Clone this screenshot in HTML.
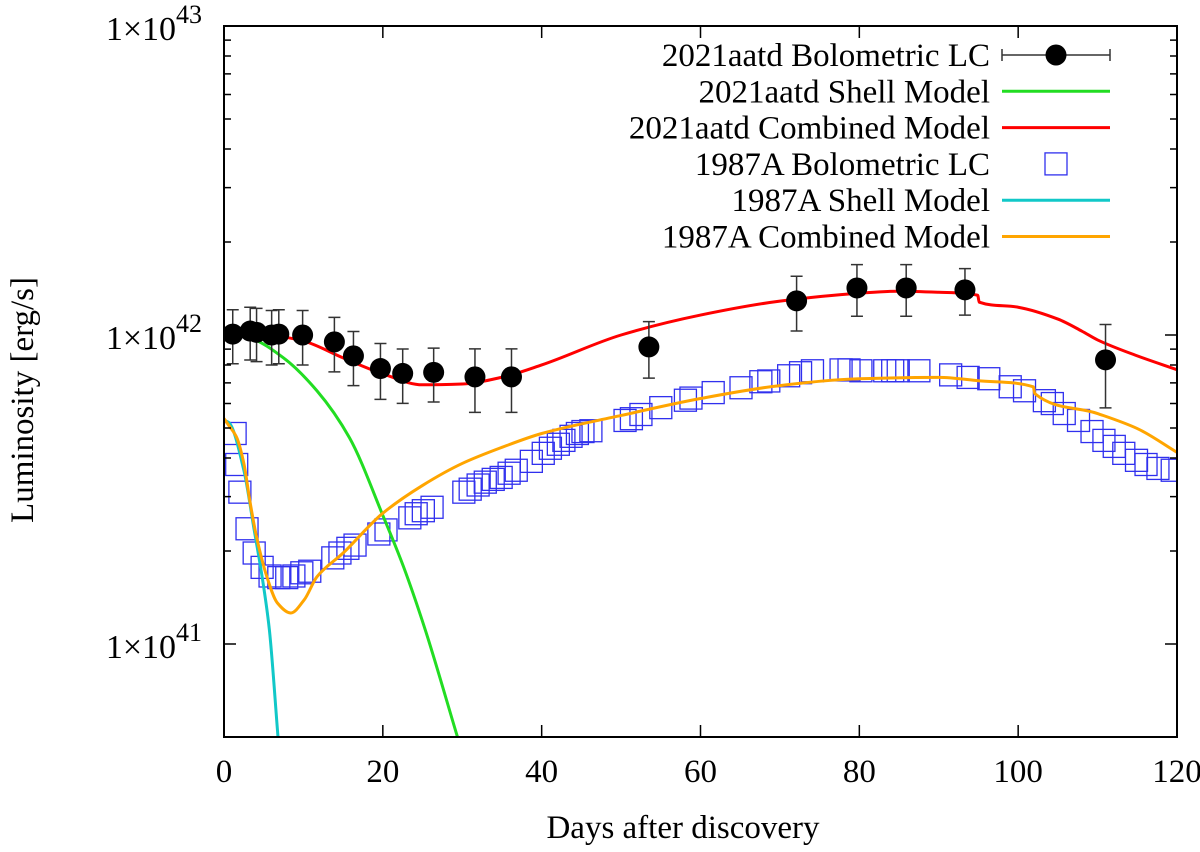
<!DOCTYPE html>
<html><head><meta charset="utf-8"><style>
body{margin:0;background:#fff;}
svg{display:block;font-family:"Liberation Serif",serif;}
</style></head><body>
<svg id="chart" width="1200" height="852" viewBox="0 0 1200 852" xmlns="http://www.w3.org/2000/svg">
<rect width="1200" height="852" fill="#fff"/>
<defs><clipPath id="clip"><rect x="224" y="26" width="953" height="711"/></clipPath></defs>
<g id="plot"></g>
<g id="axes"></g>
<g id="legend"></g>
</svg>
<script>
// ---- data (luminosity in units of 1e42 erg/s) ----
const aatdDays = [1.1,3.3,4.1,6.0,6.9,9.9,13.9,16.3,19.7,22.5,26.4,31.6,36.2,53.5,72.1,79.7,85.9,93.3,111.0];
const aatdLum  = [1.007,1.03,1.02,1.0,1.007,1.0,0.95,0.856,0.779,0.751,0.757,0.732,0.732,0.915,1.29,1.42,1.42,1.40,0.831];
const aatdErr  = [0.2,0.2,0.2,0.2,0.2,0.2,0.19,0.17,0.16,0.15,0.15,0.17,0.17,0.19,0.26,0.27,0.27,0.24,0.25];
const aatdShellDays = [0,0.4,3.3,7.5,11.7,15.8,20.1,22.6,25.3,29.4];
const aatdShellLum  = [1.03,1.015,0.978,0.843,0.66,0.465,0.257,0.178,0.112,0.05];
const aatdCombDays = [0,5,10,15,20,25,30,35,40,50,60,70,80,85,90,94.9,95.1,100,105,108,110,115,120];
const aatdCombLum  = [1.03,1.007,0.956,0.843,0.749,0.69,0.694,0.73,0.8,1.0,1.16,1.287,1.365,1.386,1.375,1.345,1.277,1.23,1.126,1.03,0.964,0.856,0.772];
const snDays = [1.4,1.6,2.0,2.9,3.8,4.8,5.8,6.9,7.9,8.8,9.8,10.8,13.7,14.6,15.6,16.5,19.5,20.4,23.4,24.2,25.1,26.2,30.2,31.0,32.0,32.9,33.9,34.9,35.9,36.8,38.7,40.2,41.1,42.1,42.8,43.7,44.5,45.2,46.2,50.5,51.3,52.5,55.0,58.1,58.8,61.6,65.1,67.6,68.6,71.1,72.6,74.1,77.7,78.7,80.2,83.2,84.2,84.9,87.5,91.5,93.7,96.3,99.0,100.8,103.3,104.3,105.8,107.6,109.3,110.8,112.1,113.3,114.9,116.1,117.6,119.4];
const snLum  = [0.48,0.381,0.31,0.236,0.197,0.177,0.166,0.164,0.164,0.166,0.17,0.172,0.19,0.197,0.204,0.209,0.227,0.234,0.256,0.264,0.27,0.277,0.31,0.317,0.327,0.334,0.341,0.346,0.357,0.365,0.39,0.414,0.43,0.443,0.456,0.47,0.48,0.487,0.49,0.529,0.536,0.553,0.582,0.615,0.625,0.651,0.675,0.706,0.71,0.738,0.755,0.766,0.771,0.771,0.766,0.766,0.766,0.766,0.766,0.743,0.729,0.722,0.68,0.66,0.613,0.6,0.557,0.529,0.487,0.456,0.436,0.414,0.393,0.381,0.37,0.365];
const snShellDays = [0,0.6,2.5,3.8,4.8,5.7,6.8];
const snShellLum  = [0.53,0.521,0.365,0.234,0.165,0.112,0.05];
const snCombDays = [0,0.6,1.6,2.5,3.3,4.1,5.4,6.7,8.4,10.1,11.7,15,20,25,30,35,40,50,60,70,80,90,95,101.9,102.1,110,115,120];
const snCombLum  = [0.537,0.51,0.466,0.384,0.286,0.222,0.165,0.136,0.126,0.139,0.165,0.197,0.265,0.326,0.384,0.433,0.48,0.549,0.623,0.686,0.722,0.729,0.711,0.68,0.646,0.557,0.498,0.417];
const xTicks = [0,20,40,60,80,100,120];
const yDecades = [41,42,43];

const X0=224,X1=1177,Y1=737,YT=26;
const xS=d=>X0+(d/120)*(X1-X0);
const yS=L=>335-Math.log10(L)*309; // L in 1e42
const NS="http://www.w3.org/2000/svg";
function mk(tag,attrs,parent){const e=document.createElementNS(NS,tag);for(const k in attrs)e.setAttribute(k,attrs[k]);parent.appendChild(e);return e;}
const plot=document.getElementById('plot'),axes=document.getElementById('axes'),leg=document.getElementById('legend');
const g=mk('g',{'clip-path':'url(#clip)'},plot);
function smoothPath(pts){
  const n=pts.length;
  const dx=[],m=[],t=[];
  for(let i=0;i<n-1;i++){dx.push(pts[i+1][0]-pts[i][0]);m.push((pts[i+1][1]-pts[i][1])/dx[i]);}
  t[0]=m[0];t[n-1]=m[n-2];
  for(let i=1;i<n-1;i++){t[i]=(m[i-1]*m[i]<=0)?0:3*(dx[i-1]+dx[i])/((2*dx[i]+dx[i-1])/m[i-1]+(dx[i]+2*dx[i-1])/m[i]);}
  let d='M'+pts[0][0]+','+pts[0][1];
  for(let i=0;i<n-1;i++){const h=dx[i]/3;
    d+=`C${pts[i][0]+h},${pts[i][1]+t[i]*h} ${pts[i+1][0]-h},${pts[i+1][1]-t[i+1]*h} ${pts[i+1][0]},${pts[i+1][1]}`;}
  return d;
}
function line(days,lum,color,name){
  const pts=days.map((d,i)=>[xS(d),yS(lum[i])]);
  const p=mk('path',{d:smoothPath(pts),fill:'none',stroke:color,'stroke-width':3,'stroke-linejoin':'round'},g);
  
  
}
snDays.forEach((d,i)=>{
  const x=xS(d),y=yS(snLum[i]);
  const r=mk('rect',{x:x-11,y:y-11,width:22,height:22,fill:'none',stroke:'#3030ee','stroke-width':1.3},g);
  
  
});
line(aatdShellDays,aatdShellLum,'#22dd22','aatd-shell-model-line');
line(snShellDays,snShellLum,'#11c8c8','sn1987a-shell-model-line');
line(snCombDays,snCombLum,'#ffa500','sn1987a-combined-model-line');
line(aatdCombDays,aatdCombLum,'#ff0000','aatd-combined-model-line');
aatdDays.forEach((d,i)=>{
  const x=xS(d),y=yS(aatdLum[i]),yh=yS(aatdLum[i]+aatdErr[i]),yl=yS(aatdLum[i]-aatdErr[i]);
  const eb=mk('path',{d:`M${x},${yh}V${yl}M${x-6},${yh}H${x+6}M${x-6},${yl}H${x+6}`,stroke:'#333','stroke-width':1.5,fill:'none'},g);
  
  
  const c=mk('circle',{cx:x,cy:y,r:10.5,fill:'#000'},g);
  
  
});
const fr=mk('rect',{x:X0,y:YT,width:X1-X0,height:Y1-YT,fill:'none',stroke:'#000','stroke-width':2},axes);


xTicks.forEach(t=>{
  const x=xS(t);
  mk('path',{d:`M${x},${Y1}v-12M${x},${YT}v12`,stroke:'#000','stroke-width':1.5},axes);
  const tx=mk('text',{x:x,y:Y1+45,'text-anchor':'middle','font-size':33},axes);tx.textContent=t;
  
  
});
yDecades.forEach(e=>{
  const base=Math.pow(10,e-42);
  const y=yS(base);
  mk('path',{d:`M${X0},${y}h12M${X1},${y}h-12`,stroke:'#000','stroke-width':1.5},axes);
  const tx=mk('text',{x:X0-22,y:y+14,'text-anchor':'end','font-size':34},axes);
  tx.innerHTML='1×10<tspan dy="-17" font-size="26">'+e+'</tspan>';
  
  
  for(let m=2;m<=9;m++){const v=base*m;const ym=yS(v);if(ym<YT||ym>Y1)continue;
    mk('path',{d:`M${X0},${ym}h7M${X1},${ym}h-7`,stroke:'#000','stroke-width':1.5},axes);}
});
const xt=mk('text',{x:683,y:838,'text-anchor':'middle','font-size':33},axes);xt.textContent='Days after discovery';


const yt=mk('text',{x:0,y:0,'text-anchor':'middle','font-size':33,transform:'translate(33,400) rotate(-90)'},axes);yt.textContent='Luminosity [erg/s]';


const entries=[['2021aatd Bolometric LC','err'],['2021aatd Shell Model','#22dd22'],['2021aatd Combined Model','#ff0000'],['1987A Bolometric LC','sq'],['1987A Shell Model','#11c8c8'],['1987A Combined Model','#ffa500']];
entries.forEach((en,i)=>{
  const y=55+36.3*i;
  const eg=mk('g',{},leg);
  
  
  const t=mk('text',{x:990,y:y+11,'text-anchor':'end','font-size':33},eg);t.textContent=en[0];
  if(en[1]==='err'){mk('path',{d:`M1002,${y}H1110M1002,${y-6}v12M1110,${y-6}v12`,stroke:'#333','stroke-width':1.5},eg);mk('circle',{cx:1056,cy:y,r:10.5,fill:'#000'},eg);}
  else if(en[1]==='sq'){mk('rect',{x:1045,y:y-11,width:22,height:22,fill:'none',stroke:'#3030ee','stroke-width':1.3},eg);}
  else mk('path',{d:`M1002,${y}H1110`,stroke:en[1],'stroke-width':3},eg);
});
</script>
</body></html>
